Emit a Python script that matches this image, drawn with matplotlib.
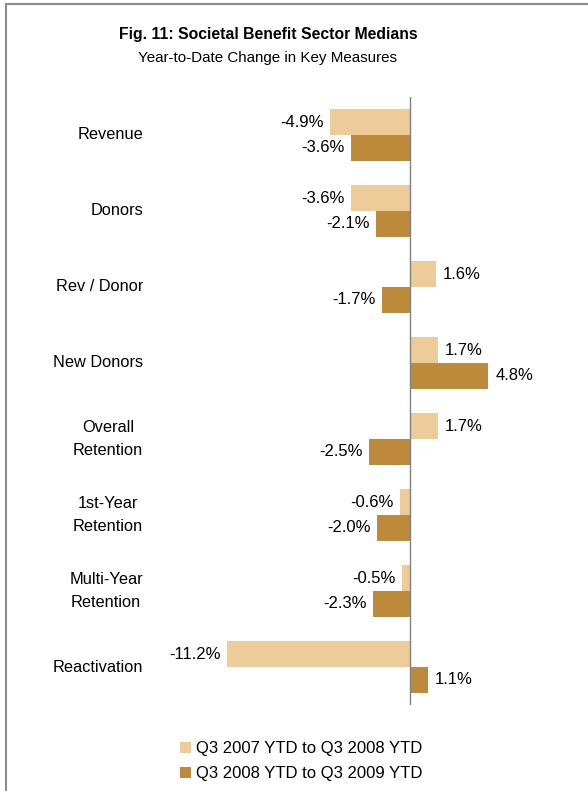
import matplotlib.pyplot as plt
from matplotlib.patches import Patch, Rectangle

plt.rcParams.update({
    "font.family": ["Liberation Sans", "DejaVu Sans"],
    "font.size": 12,
})

W, H = 588, 791

categories = ["Revenue", "Donors", "Rev / Donor", "New Donors",
              "Overall\nRetention", "1st-Year\nRetention",
              "Multi-Year\nRetention", "Reactivation"]
chg_07_08 = [-4.9, -3.6, 1.6, 1.7, 1.7, -0.6, -0.5, -11.2]
chg_08_09 = [-3.6, -2.1, -1.7, 4.8, -2.5, -2.0, -2.3, 1.1]
series_names = ["Q3 2007 YTD to Q3 2008 YTD", "Q3 2008 YTD to Q3 2009 YTD"]

LIGHT = "#EDCC99"
DARK = "#BD8A3B"

fig = plt.figure(figsize=(W / 100, H / 100), dpi=100)

# frame around the chart (only top and left edges fall inside the image)
fig.patches.append(Rectangle((6 / W, -0.05), 1.1, (H - 3.5) / H + 0.05,
                             transform=fig.transFigure, fill=False,
                             edgecolor="#8c8c8c", linewidth=1.5))

fig.text(268 / W, 1 - 34 / H, "Fig. 11: Societal Benefit Sector Medians",
         ha="center", va="center", fontsize=11.3, fontweight="bold")
fig.text(268 / W, 1 - 58 / H, "Year-to-Date Change in Key Measures",
         ha="center", va="center", fontsize=10.9)

left, right, top, bottom = 150, 570, 97, 705
ax = fig.add_axes([left / W, 1 - bottom / H, (right - left) / W, (bottom - top) / H])

bh = 0.342
ypos = list(range(len(categories)))
y1 = [y - bh / 2 for y in ypos]
y2 = [y + bh / 2 for y in ypos]
b1 = ax.barh(y1, chg_07_08, height=bh, color=LIGHT)
b2 = ax.barh(y2, chg_08_09, height=bh, color=DARK)

for bars, vals in ((b1, chg_07_08), (b2, chg_08_09)):
    for bar, v in zip(bars, vals):
        yc = bar.get_y() + bar.get_height() / 2
        off = 5 if v >= 0 else -4.5
        ax.annotate(f"{v:.1f}%", xy=(v, yc), xytext=(off, 0),
                    textcoords="offset points", va="center",
                    ha="left" if v >= 0 else "right", fontsize=12)

ax.axvline(0, color="#808080", linewidth=1)
ax.set_xlim((left - 410) / 16.3, (right - 410) / 16.3)
ax.set_ylim(len(categories) - 0.5, -0.5)
ax.set_yticks(ypos)
ax.set_yticklabels(categories, multialignment="center", linespacing=1.6,
                   fontsize=11.8, va="center")
ax.tick_params(axis="y", length=0, pad=5)
ax.set_xticks([])
for s in ax.spines.values():
    s.set_visible(False)

handles = [Patch(facecolor=LIGHT), Patch(facecolor=DARK)]
fig.legend(handles, series_names, loc="upper left",
           bbox_to_anchor=(172 / W, 1 - 733 / H), frameon=False,
           handlelength=0.65, handleheight=0.65, handletextpad=0.3,
           labelspacing=0.6, borderpad=0, fontsize=12)

fig.savefig("out.png", dpi=100)
